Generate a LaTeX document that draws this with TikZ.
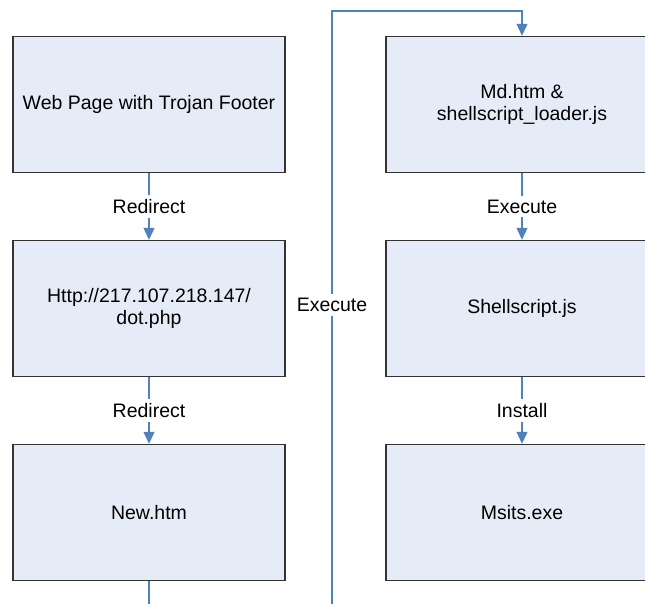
\documentclass[tikz,border=0pt]{standalone}
\usepackage{fontspec}
\setmainfont{Liberation Sans}
\usetikzlibrary{arrows.meta}

\definecolor{boxfill}{HTML}{E6ECF7}
\definecolor{boxline}{HTML}{333333}
\definecolor{flowblue}{HTML}{4F81BD}

\tikzset{
  stagebox/.style={draw=boxline, line width=1.4pt, fill=boxfill,
    minimum width=272pt, minimum height=136pt, inner sep=0pt,
    align=center, font=\fontsize{19.5pt}{22pt}\selectfont},
  flow/.style={draw=flowblue, line width=1.1pt,
    -{Triangle[width=11pt,length=12pt]}},
  flowlabel/.style={fill=white, inner sep=4pt,
    font=\fontsize{19.5pt}{22pt}\selectfont}
}

\begin{document}
\begin{tikzpicture}[x=1pt, y=-1pt]
  \useasboundingbox (0,0) rectangle (645,604);
  \clip (0,0) rectangle (645,604);

  % left column
  \node[stagebox] (web) at (149,104.5) {Web Page with Trojan Footer};
  \node[stagebox] (dot) at (149,308.5) {Http://217.107.218.147/\\dot.php};
  \node[stagebox] (new) at (149,512.5) {New.htm};

  % right column
  \node[stagebox] (md)  at (522,104.5) {Md.htm \&\\shellscript\_loader.js};
  \node[stagebox] (sh)  at (522,308.5) {Shellscript.js};
  \node[stagebox] (ms)  at (522,512.5) {Msits.exe};

  % route from New.htm below the page and back up to Md.htm
  \coordinate (c1) at (149,640);
  \coordinate (c2) at (332,640);
  \coordinate (c3) at (332,11);
  \coordinate (c4) at (522,11);

  \draw[flow] (web) -- node[flowlabel] {Redirect} (dot);
  \draw[flow] (dot) -- node[flowlabel] {Redirect} (new);
  \draw[flow] (md)  -- node[flowlabel] {Execute} (sh);
  \draw[flow] (sh)  -- node[flowlabel] {Install} (ms);

  \draw[flow] (new.south) -- (c1) -- (c2) -- (c3) -- (c4) -- (md.north);
  \node[flowlabel] (exe) at (332,305) {Execute};
\end{tikzpicture}
\end{document}
